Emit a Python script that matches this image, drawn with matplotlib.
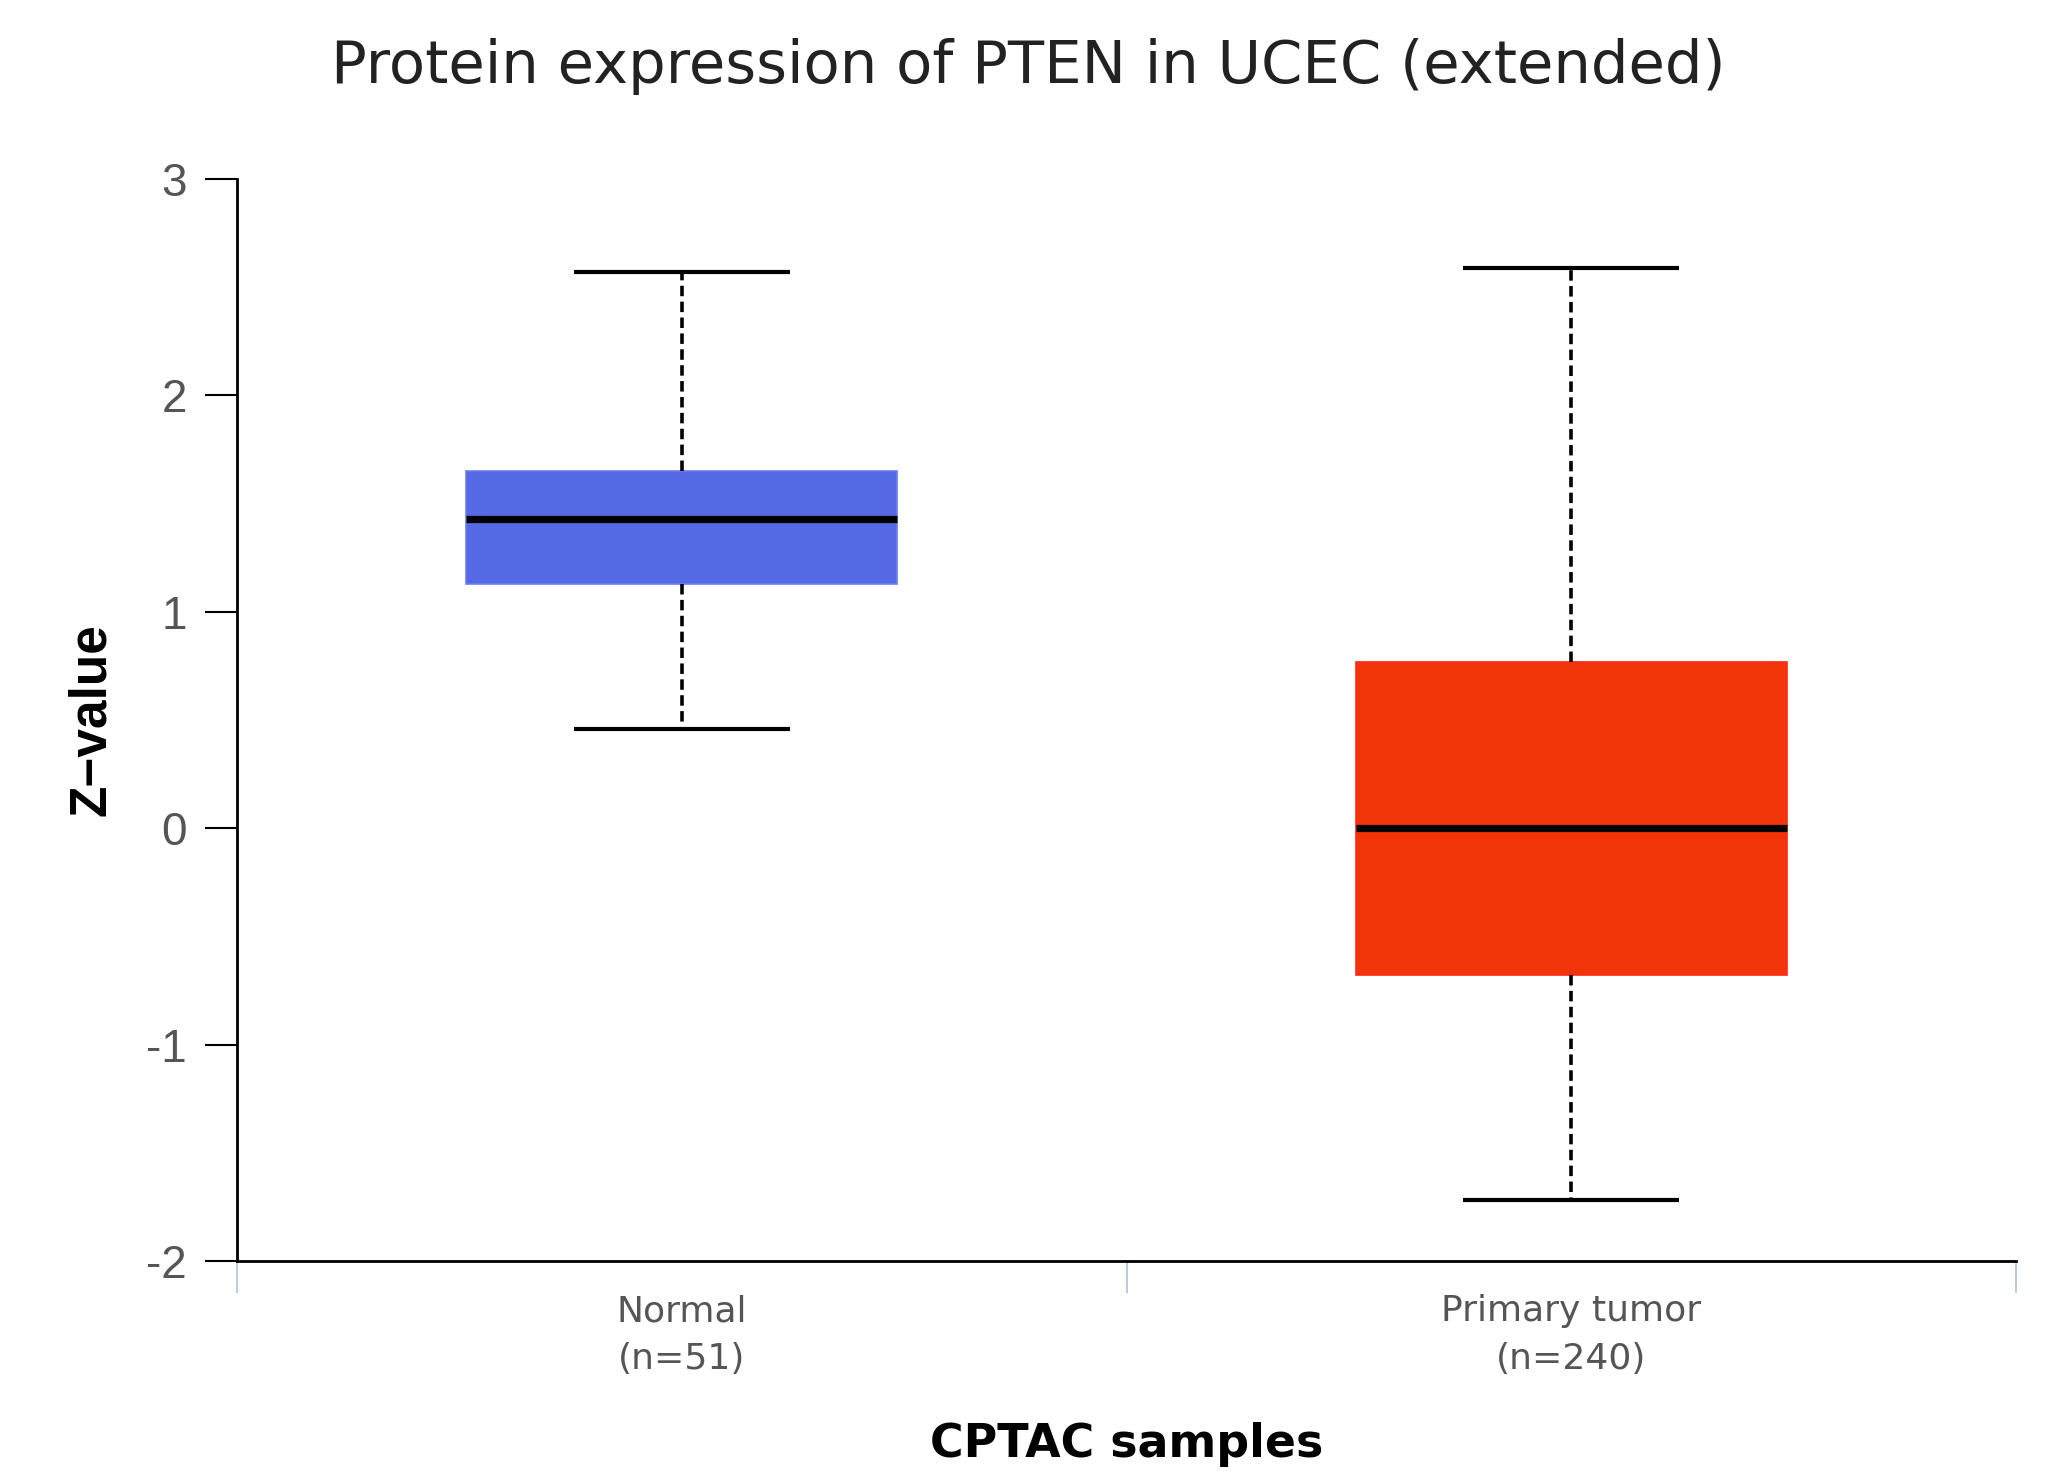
import matplotlib
matplotlib.use("Agg")
import matplotlib.pyplot as plt

# box statistics (Z-values)
groups = ["Normal", "Primary tumor"]
counts = [51, 240]
whislo = [0.46, -1.72]
q1 = [1.13, -0.68]
med = [1.43, 0.0]
q3 = [1.65, 0.77]
whishi = [2.57, 2.59]

box_colors = ["#5469e3", "#f23409"]
edge_colors = ["#6a7cf0", "#ff2a1a"]

stats = []
for i in range(len(groups)):
    stats.append(dict(label=groups[i], whislo=whislo[i], q1=q1[i], med=med[i],
                      q3=q3[i], whishi=whishi[i], fliers=[]))

fig = plt.figure(figsize=(20.48, 14.82), dpi=100)
ax = fig.add_axes([0.1157, 0.1491, 0.8687, 0.7301])

positions = [0.5, 1.5]
bp = ax.bxp(stats, positions=positions, widths=0.485, patch_artist=True,
            showfliers=False, capwidths=0.243,
            medianprops=dict(color="black", linewidth=5.2, solid_capstyle="butt"),
            whiskerprops=dict(color="black", linewidth=2.6, linestyle=(0, (2.9, 1.5))),
            capprops=dict(color="black", linewidth=3, solid_capstyle="butt"))
for patch, fc, ec in zip(bp["boxes"], box_colors, edge_colors):
    patch.set_facecolor(fc)
    patch.set_edgecolor(ec)
    patch.set_linewidth(1.2)

ax.set_xlim(0, 2)
ax.set_ylim(-2, 3)

ax.spines["top"].set_visible(False)
ax.spines["right"].set_visible(False)
ax.spines["left"].set_linewidth(2)
ax.spines["bottom"].set_linewidth(2)

ax.set_yticks([-2, -1, 0, 1, 2, 3])
ax.set_yticklabels(["-2", "-1", "0", "1", "2", "3"], family="Liberation Sans",
                   fontsize=33, color="#555555")
ax.tick_params(axis="y", length=23, width=1.5, pad=13, color="black")

# group boundaries as light blue major ticks, labels on minor ticks
ax.set_xticks([0, 1, 2])
ax.set_xticklabels([])
ax.tick_params(axis="x", which="major", length=23, width=1.3, color="#b3c6e0")
ax.set_xticks(positions, minor=True)
ax.set_xticklabels([f"{g}\n(n={n})" for g, n in zip(groups, counts)], minor=True,
                   family="DejaVu Sans", fontsize=26, color="#555555", linespacing=1.5)
ax.tick_params(axis="x", which="minor", length=0, pad=24)

ax.set_xlabel("CPTAC samples", family="DejaVu Sans", fontsize=33, fontweight="bold",
              labelpad=33)
ax.set_ylabel("Z\u2212value", family="Liberation Sans", fontsize=37, fontweight="bold",
              labelpad=22)

fig.text(0.5020, 0.944, "Protein expression of PTEN in UCEC (extended)",
         ha="center", va="baseline", family="DejaVu Sans", fontsize=42.7, color="#222222")

fig.savefig("out.png", dpi=100)
